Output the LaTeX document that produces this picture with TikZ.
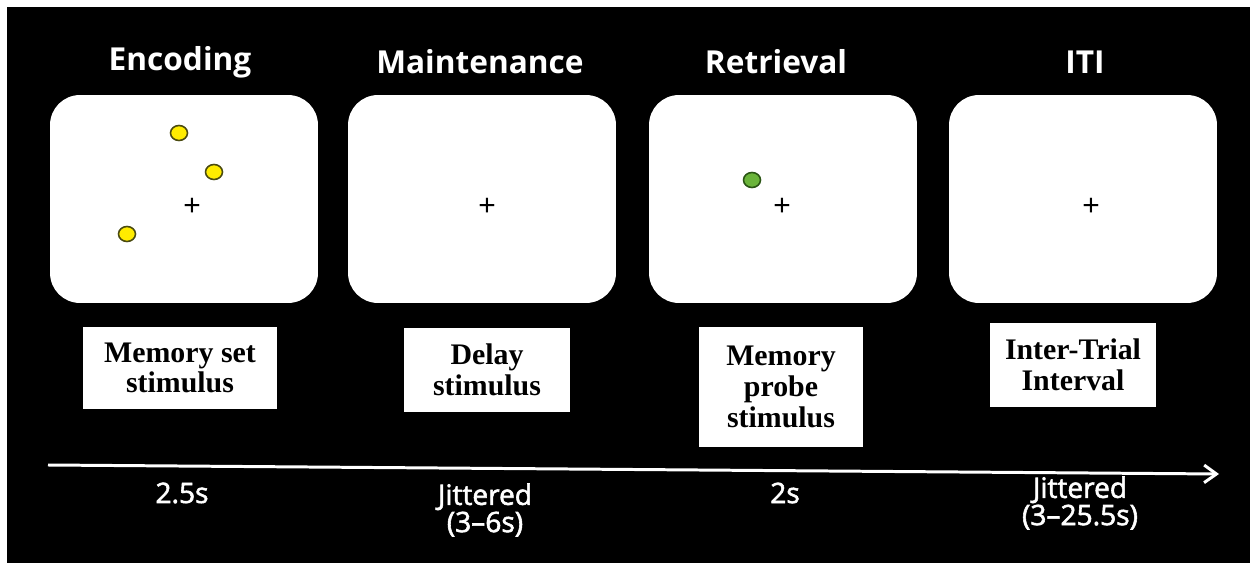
\documentclass[tikz,border=0pt]{standalone}
\usepackage{fontspec}
\setmainfont{Liberation Serif}
\setsansfont{Open Sans}
\newfontfamily\crossfont{Liberation Sans}
\newfontfamily\timefont{Open Sans}[FakeBold=2]
\usetikzlibrary{arrows.meta,shapes.geometric}
\definecolor{dotyellow}{HTML}{FFEC00}
\definecolor{dotolive}{HTML}{4A4A10}
\definecolor{dotgreen}{HTML}{6AB43A}
\definecolor{dotdkgreen}{HTML}{2A5514}
\begin{document}
\begin{tikzpicture}[x=0.02cm, y=-0.02cm]
  \tikzstyle{screen}=[fill=white, rounded corners=0.6cm, minimum width=5.36cm, minimum height=4.16cm, inner sep=0pt]
  \tikzstyle{phase}=[text=white, font=\sffamily\bfseries\fontsize{18}{20}\selectfont]
  \tikzstyle{caption}=[fill=white, align=center, inner sep=0pt, font=\bfseries\fontsize{17}{17.5}\selectfont]
  \tikzstyle{timing}=[text=white, align=center, font=\timefont\fontsize{16}{15.5}\selectfont]
  \tikzstyle{ydot}=[ellipse, draw=dotolive, fill=dotyellow, line width=0.9pt, minimum width=0.34cm, minimum height=0.3cm, inner sep=0pt]
  \tikzstyle{gdot}=[ydot, draw=dotdkgreen, fill=dotgreen]
  \tikzstyle{fix}=[font=\crossfont\fontsize{17}{17}\selectfont, inner sep=0pt]
  \fill[white] (0,0) rectangle (1250,563);
  \fill[black] (7,7) rectangle (1250,563);
  % phases
  \node[phase] (enc) at (180,62) {Encoding};
  \node[phase] (mnt) at (480,62) {Maintenance};
  \node[phase] (ret) at (776,62) {Retrieval};
  \node[phase] (iti) at (1085,62) {ITI};
  % screens
  \node[screen] (scrA) at (184,199) {};
  \node[screen] (scrB) at (482,199) {};
  \node[screen] (scrC) at (783,199) {};
  \node[screen] (scrD) at (1083,199) {};
  \node[ydot] (dA1) at (179,133) {};
  \node[ydot] (dA2) at (214,172) {};
  \node[ydot] (dA3) at (127,234) {};
  \node[gdot] (dC1) at (752,180) {};
  \node[fix] (fxA) at (192,207) {+};
  \node[fix] (fxB) at (487,207) {+};
  \node[fix] (fxC) at (782,207) {+};
  \node[fix] (fxD) at (1091,207) {+};
  % captions
  \node[caption, minimum width=3.88cm, minimum height=1.66cm] (capA) at (180,368) {Memory set\\stimulus};
  \node[caption, minimum width=3.32cm, minimum height=1.68cm] (capB) at (487,370) {Delay\\stimulus};
  \node[caption, minimum width=3.3cm, minimum height=2.4cm] (capC) at (781,387) {Memory\\probe\\stimulus};
  \node[caption, minimum width=3.32cm, minimum height=1.68cm] (capD) at (1073,365) {Inter-Trial\\Interval};
  % time line
  \coordinate (tstart) at (48,465);
  \coordinate (tend) at (1219,474);
  \draw[white, line width=1.7pt, -{Straight Barb[length=7pt,width=10pt]}] (tstart) -- (tend);
  \node[timing] (tA) at (182,493) {2.5s};
  \node[timing] (tB) at (485,510) {Jittered\\(3–6s)};
  \node[timing] (tC) at (785,493) {2s};
  \node[timing] (tD) at (1080,503) {Jittered\\(3–25.5s)};
\end{tikzpicture}
\end{document}
